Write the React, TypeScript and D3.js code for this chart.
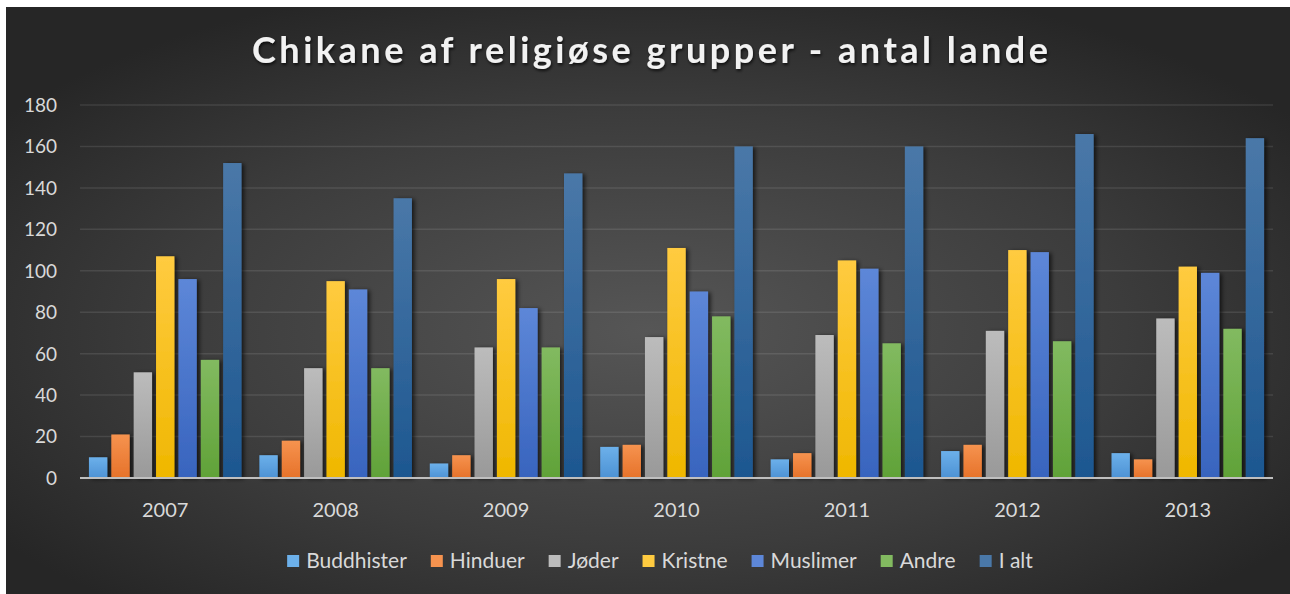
import React, { useEffect, useRef } from "react";
import * as d3 from "d3";

const years = ["2007", "2008", "2009", "2010", "2011", "2012", "2013"];
const groups = ["Buddhister", "Hinduer", "Jøder", "Kristne", "Muslimer", "Andre", "I alt"];

const buddhister = [10, 11, 7, 15, 9, 13, 12];
const hinduer = [21, 18, 11, 16, 12, 16, 9];
const joeder = [51, 53, 63, 68, 69, 71, 77];
const kristne = [107, 95, 96, 111, 105, 110, 102];
const muslimer = [96, 91, 82, 90, 101, 109, 99];
const andre = [57, 53, 63, 78, 65, 66, 72];
const iAlt = [152, 135, 147, 160, 160, 166, 164];

const yTicks = [0, 20, 40, 60, 80, 100, 120, 140, 160, 180];

const seriesValues = [buddhister, hinduer, joeder, kristne, muslimer, andre, iAlt];
// top / bottom of each bar's gradient
const colorsTop = ["#6cb0ea", "#f6934f", "#bcbcbc", "#ffcb40", "#5d87d8", "#82ba60", "#4a78a8"];
const colorsBottom = ["#4d92d4", "#e6722a", "#999999", "#efb700", "#3864be", "#60a238", "#1d5790"];

const FONT = "Lato, 'Open Sans', sans-serif";

export default function App() {
  const ref = useRef<SVGSVGElement>(null);

  useEffect(() => {
    const W = 1290,
      H = 594;
    const svg = d3.select(ref.current).attr("width", W).attr("height", H);
    svg.selectAll("*").remove();

    const defs = svg.append("defs");
    const bg = defs
      .append("radialGradient")
      .attr("id", "bg")
      .attr("cx", "50%")
      .attr("cy", "55%")
      .attr("r", "62%");
    bg.append("stop").attr("offset", "0%").attr("stop-color", "#565656");
    bg.append("stop").attr("offset", "60%").attr("stop-color", "#3c3c3c");
    bg.append("stop").attr("offset", "100%").attr("stop-color", "#262626");

    groups.forEach((g, i) => {
      const lg = defs
        .append("linearGradient")
        .attr("id", "bar" + i)
        .attr("x1", 0)
        .attr("y1", 0)
        .attr("x2", 0)
        .attr("y2", 1);
      lg.append("stop").attr("offset", "0%").attr("stop-color", colorsTop[i]);
      lg.append("stop").attr("offset", "100%").attr("stop-color", colorsBottom[i]);
    });

    const shadow = defs
      .append("filter")
      .attr("id", "shadow")
      .attr("x", "-30%")
      .attr("y", "-10%")
      .attr("width", "180%")
      .attr("height", "130%");
    shadow
      .append("feDropShadow")
      .attr("dx", 2.5)
      .attr("dy", 1)
      .attr("stdDeviation", 2)
      .attr("flood-color", "#000")
      .attr("flood-opacity", 0.65);

    const tshadow = defs.append("filter").attr("id", "tshadow");
    tshadow
      .append("feDropShadow")
      .attr("dx", 1)
      .attr("dy", 2)
      .attr("stdDeviation", 1.5)
      .attr("flood-color", "#000")
      .attr("flood-opacity", 0.7);

    svg
      .append("rect")
      .attr("x", 6)
      .attr("y", 7)
      .attr("width", W - 6)
      .attr("height", H - 7)
      .attr("fill", "url(#bg)");

    svg
      .append("text")
      .attr("x", 650)
      .attr("y", 63)
      .attr("text-anchor", "middle")
      .attr("font-family", FONT)
      .attr("font-weight", "bold")
      .attr("font-size", 36)
      .attr("fill", "#f2f2f2")
      .attr("textLength", 796)
      .attr("lengthAdjust", "spacing")
      .attr("filter", "url(#tshadow)")
      .text("Chikane af religiøse grupper - antal lande");

    const x = d3.scaleBand().domain(years).range([80, 1273]).padding(0);
    const xs = d3
      .scaleBand()
      .domain(groups)
      .range([0, x.bandwidth()])
      .paddingInner(0.18)
      .paddingOuter(0.4);
    const y = d3.scaleLinear().domain([0, 180]).range([478, 105]);

    const grid = svg.append("g");
    grid
      .selectAll("line")
      .data(yTicks.filter((t) => t > 0))
      .join("line")
      .attr("x1", 80)
      .attr("x2", 1273)
      .attr("y1", (d) => y(d))
      .attr("y2", (d) => y(d))
      .attr("stroke", "#ffffff")
      .attr("stroke-opacity", 0.1)
      .attr("stroke-width", 1.5);

    svg
      .append("g")
      .selectAll("text")
      .data(yTicks)
      .join("text")
      .attr("x", 57)
      .attr("y", (d) => y(d))
      .attr("dy", "0.36em")
      .attr("text-anchor", "end")
      .attr("font-family", FONT)
      .attr("font-size", 19)
      .attr("fill", "#d9d9d9")
      .text((d) => d);

    const bars = svg.append("g");
    seriesValues.forEach((vals, si) => {
      bars
        .append("g")
        .attr("filter", "url(#shadow)")
        .selectAll("rect")
        .data(vals)
        .join("rect")
        .attr("x", (d, i) => x(years[i])! + xs(groups[si])!)
        .attr("y", (d) => y(d))
        .attr("width", xs.bandwidth())
        .attr("height", (d) => y(0) - y(d))
        .attr("fill", "url(#bar" + si + ")");
    });

    svg
      .append("line")
      .attr("x1", 80)
      .attr("x2", 1273)
      .attr("y1", y(0))
      .attr("y2", y(0))
      .attr("stroke", "#bfbfbf")
      .attr("stroke-width", 2);

    svg
      .append("g")
      .selectAll("text")
      .data(years)
      .join("text")
      .attr("x", (d) => x(d)! + x.bandwidth() / 2)
      .attr("y", 517)
      .attr("text-anchor", "middle")
      .attr("font-family", FONT)
      .attr("font-size", 20)
      .attr("fill", "#d9d9d9")
      .text((d) => d);

    // legend, laid out from measured text widths
    const legend = svg.append("g");
    const items = legend
      .selectAll("g")
      .data(groups)
      .join("g");
    items
      .append("rect")
      .attr("width", 12)
      .attr("height", 12)
      .attr("y", 555)
      .attr("fill", (d, i) => colorsTop[i]);
    const labels = items
      .append("text")
      .attr("x", 19)
      .attr("y", 568)
      .attr("font-family", FONT)
      .attr("font-size", 21)
      .attr("fill", "#d9d9d9")
      .text((d) => d);
    const widths: number[] = [];
    labels.each(function () {
      widths.push((this as SVGTextElement).getComputedTextLength());
    });
    let cx = 0;
    const offsets: number[] = [];
    widths.forEach((w) => {
      offsets.push(cx);
      cx += 19 + w + 24;
    });
    const total = cx - 24;
    const start = 660 - total / 2;
    items.attr("transform", (d, i) => `translate(${start + offsets[i]},0)`);
  }, []);

  return <svg ref={ref} style={{ position: "absolute", left: 0, top: 0 }}></svg>;
}
